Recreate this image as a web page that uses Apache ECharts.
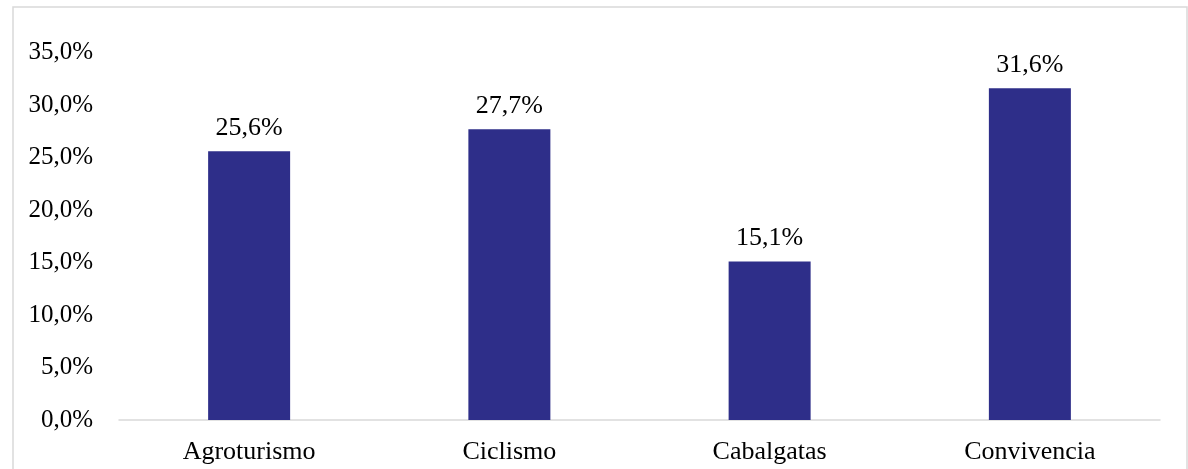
<!DOCTYPE html>
<html>
<head>
<meta charset="utf-8">
<script src="https://cdn.jsdelivr.net/npm/echarts@6/dist/echarts.min.js"></script>
<style>
html,body{margin:0;padding:0;background:#fff;}
#c{width:1188px;height:469px;}
</style>
</head>
<body>
<div id="c"></div>
<script>
const categories = ['Agroturismo', 'Ciclismo', 'Cabalgatas', 'Convivencia'];
const values = [25.6, 27.7, 15.1, 31.6];
const yMin = 0, yMax = 35, yStep = 5;

const fmt = v => v.toFixed(1).replace('.', ',') + '%';
const font = '"Liberation Serif", "Times New Roman", serif';

const chart = echarts.init(document.getElementById('c'));
chart.setOption({
  animation: false,
  backgroundColor: '#fff',
  graphic: [{
    type: 'rect',
    shape: { x: 13, y: 7, width: 1174, height: 480 },
    style: { fill: 'none', stroke: '#d9d9d9', lineWidth: 1.5 },
    silent: true
  }],
  grid: { left: 119, right: 28, top: 52.5, bottom: 49, containLabel: false },
  xAxis: {
    type: 'category',
    data: categories,
    axisLine: { lineStyle: { color: '#d9d9d9', width: 1.5 } },
    axisTick: { show: false },
    axisLabel: { color: '#000', fontFamily: font, fontSize: 26, margin: 19 }
  },
  yAxis: {
    type: 'value',
    min: yMin, max: yMax, interval: yStep,
    axisLine: { show: false },
    axisTick: { show: false },
    splitLine: { show: false },
    axisLabel: { color: '#000', fontFamily: font, fontSize: 25, margin: 26, formatter: v => fmt(v) }
  },
  series: [{
    type: 'bar',
    data: values,
    barWidth: 82,
    itemStyle: { color: '#2E2E89' },
    label: {
      show: true, position: 'top', distance: 10,
      color: '#000', fontFamily: font, fontSize: 26,
      formatter: p => fmt(p.value)
    }
  }]
});
</script>
</body>
</html>
